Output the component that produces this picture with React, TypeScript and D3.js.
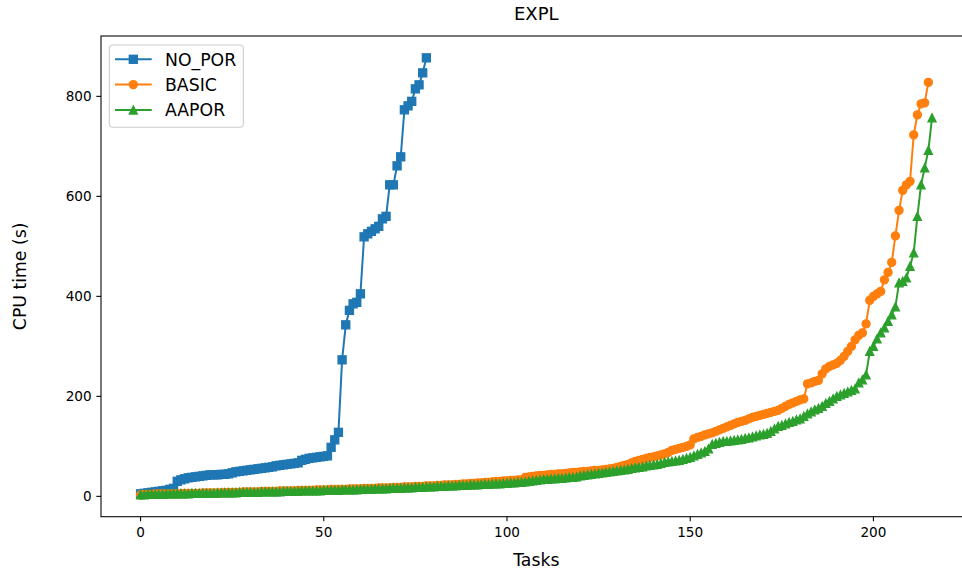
import React from 'react';
import * as d3 from 'd3';

const noPor = [
  5, 6, 7, 8, 9, 10, 11, 12, 14, 16,
  30, 33, 35, 37, 38, 39, 40, 41, 42, 43,
  43, 43, 44, 44, 45, 47, 49, 50, 51, 52,
  53, 54, 55, 56, 57, 58, 59, 61, 62, 63,
  64, 65, 66, 67, 72, 74, 76, 77, 78, 79,
  80, 81, 98, 113, 128, 273, 343, 372, 385, 388,
  405, 519, 525, 530, 535, 540, 555, 560, 623, 623,
  661, 679, 773, 781, 790, 815, 823, 847, 877,
];

const basic = [
  3, 4, 4, 4, 5, 5, 5, 5, 5, 5,
  5, 6, 6, 6, 6, 6, 6, 7, 7, 7,
  7, 7, 7, 8, 8, 8, 8, 8, 9, 9,
  9, 9, 9, 10, 10, 10, 10, 10, 11, 11,
  11, 11, 11, 12, 12, 12, 12, 12, 13, 13,
  13, 13, 14, 14, 14, 14, 14, 15, 15, 15,
  15, 16, 16, 16, 16, 17, 17, 17, 17, 18,
  18, 18, 19, 19, 19, 20, 20, 20, 21, 21,
  21, 22, 22, 23, 23, 23, 24, 24, 25, 25,
  26, 26, 27, 27, 28, 28, 29, 30, 30, 31,
  31, 32, 32, 33, 33, 38, 39, 40, 41, 42,
  42, 43, 44, 44, 45, 45, 46, 47, 48, 48,
  49, 50, 50, 51, 52, 52, 53, 54, 55, 56,
  58, 60, 62, 64, 67, 70, 72, 74, 76, 78,
  79, 81, 83, 85, 88, 92, 94, 96, 98, 100,
  103, 115, 118, 120, 123, 125, 127, 130, 133, 136,
  139, 142, 145, 148, 150, 152, 155, 158, 160, 162,
  164, 166, 168, 170, 172, 176, 180, 184, 187, 190,
  193, 195, 225, 227, 230, 232, 245, 255, 260, 263,
  266, 272, 280, 290, 300, 313, 322, 327, 345, 392,
  400, 405, 410, 433, 448, 468, 521, 572, 612, 623,
  630, 723, 763, 785, 787, 828,
];

const aapor = [
  3, 3, 4, 4, 4, 4, 4, 5, 5, 5,
  5, 5, 5, 5, 6, 6, 6, 6, 6, 6,
  6, 7, 7, 7, 7, 7, 7, 8, 8, 8,
  8, 8, 8, 9, 9, 9, 9, 9, 9, 10,
  10, 10, 10, 10, 11, 11, 11, 11, 11, 11,
  12, 12, 12, 12, 12, 13, 13, 13, 13, 13,
  14, 14, 14, 14, 15, 15, 15, 15, 16, 16,
  16, 16, 17, 17, 17, 18, 18, 18, 19, 19,
  19, 20, 20, 20, 21, 21, 21, 22, 22, 22,
  23, 23, 23, 24, 24, 24, 25, 25, 25, 26,
  26, 27, 27, 28, 28, 29, 30, 31, 32, 33,
  34, 34, 35, 35, 36, 36, 37, 38, 38, 39,
  41, 42, 43, 44, 45, 46, 47, 48, 49, 50,
  51, 52, 53, 54, 56, 57, 58, 59, 61, 62,
  63, 64, 66, 68, 69, 70, 71, 72, 74, 76,
  78, 81, 84, 87, 90, 95, 104, 106, 108, 110,
  110, 111, 112, 113, 114, 116, 117, 119, 121, 123,
  124, 126, 130, 135, 140, 142, 145, 148, 150, 153,
  155, 160, 165, 169, 173, 176, 180, 186, 190, 195,
  200, 203, 206, 209, 212, 215, 227, 233, 243, 290,
  300, 315, 327, 337, 350, 363, 379, 427, 430, 437,
  460, 487, 560, 623, 657, 692, 757,
];

const seriesNames = ['NO_POR', 'BASIC', 'AAPOR'];
const seriesColors = ['#1f77b4', '#ff7f0e', '#2ca02c'];
const seriesMarkers = ['square', 'circle', 'triangle'];
const xTicks = [0, 50, 100, 150, 200];
const yTicks = [0, 200, 400, 600, 800];
const titleText = 'EXPL';
const xLabel = 'Tasks';
const yLabel = 'CPU time (s)';

const FONT = 'DejaVu Sans, sans-serif';

function Marker({ kind, cx, cy, color }: { kind: string; cx: number; cy: number; color: string }) {
  const r = 4;
  const sw = 1.33;
  if (kind === 'square') {
    return <rect x={cx - r} y={cy - r} width={2 * r} height={2 * r} fill={color} stroke={color} strokeWidth={sw} strokeLinejoin="miter" />;
  }
  if (kind === 'circle') {
    return <circle cx={cx} cy={cy} r={r} fill={color} stroke={color} strokeWidth={sw} />;
  }
  return (
    <path
      d={`M${cx},${cy - r}L${cx - r},${cy + r}L${cx + r},${cy + r}Z`}
      fill={color}
      stroke={color}
      strokeWidth={sw}
      strokeLinejoin="miter"
    />
  );
}

export default function App() {
  const W = 962;
  const H = 572;
  const left = 101;
  const right = 971.6;
  const top = 36;
  const bottom = 516.7;

  const all = [noPor, basic, aapor];
  const xmax = d3.max(all, (s) => s.length - 1) as number;
  const xmin = 0;
  const xpad = (xmax - xmin) * 0.05;
  const ymin = d3.min(all, (s) => d3.min(s) as number) as number;
  const ymax = d3.max(all, (s) => d3.max(s) as number) as number;
  const ypad = (ymax - ymin) * 0.05;

  const x = d3.scaleLinear().domain([xmin - xpad, xmax + xpad]).range([left, right]);
  const y = d3.scaleLinear().domain([ymin - ypad, ymax + ypad]).range([bottom, top]);

  const line = d3
    .line<number>()
    .x((_, i) => x(i))
    .y((d) => y(d));

  const tickLen = 4.67;
  const cx = (left + right) / 2;
  const cy = (top + bottom) / 2;

  // legend layout
  const lgX = 109.3;
  const lgY = 45;
  const lgW = 134;
  const lgH = 82.3;
  const rowY = [59.3, 84.6, 110];
  const labelFs = 17.3;

  return (
    <svg
      width={W}
      height={H}
      viewBox={`0 0 ${W} ${H}`}
      style={{ position: 'absolute', left: 0, top: 0, background: '#fff' }}
      fontFamily={FONT}
    >
      <rect x={0} y={0} width={W} height={H} fill="#fff" />
      <defs>
        <clipPath id="plotclip">
          <rect x={left} y={top} width={right - left} height={bottom - top} />
        </clipPath>
      </defs>

      <g clipPath="url(#plotclip)">
        {all.map((s, si) => (
          <g key={seriesNames[si]}>
            <path d={line(s) || ''} fill="none" stroke={seriesColors[si]} strokeWidth={2} strokeLinejoin="round" strokeLinecap="square" />
            {s.map((v, i) => (
              <Marker key={i} kind={seriesMarkers[si]} cx={x(i)} cy={y(v)} color={seriesColors[si]} />
            ))}
          </g>
        ))}
      </g>

      {/* spines */}
      <rect x={left} y={top} width={right - left} height={bottom - top} fill="none" stroke="#000" strokeWidth={1.07} />

      {/* x ticks */}
      {xTicks.map((t) => (
        <g key={`x${t}`}>
          <line x1={x(t)} x2={x(t)} y1={bottom} y2={bottom + tickLen} stroke="#000" strokeWidth={1.07} />
          <text x={x(t)} y={bottom + 20} textAnchor="middle" fontSize={13.6} fill="#000">
            {t}
          </text>
        </g>
      ))}

      {/* y ticks */}
      {yTicks.map((t) => (
        <g key={`y${t}`}>
          <line x1={left - tickLen} x2={left} y1={y(t)} y2={y(t)} stroke="#000" strokeWidth={1.07} />
          <text x={left - tickLen - 4.67} y={y(t) + 4.9} textAnchor="end" fontSize={13.6} fill="#000">
            {t}
          </text>
        </g>
      ))}

      {/* labels */}
      <text x={cx} y={566} textAnchor="middle" fontSize={labelFs} fill="#000">
        {xLabel}
      </text>
      <text transform={`translate(26,${cy}) rotate(-90)`} textAnchor="middle" fontSize={labelFs} fill="#000">
        {yLabel}
      </text>
      <text x={cx} y={20} textAnchor="middle" fontSize={18} fill="#000">
        {titleText}
      </text>

      {/* legend */}
      <rect x={lgX} y={lgY} width={lgW} height={lgH} rx={3.5} ry={3.5} fill="#fff" fillOpacity={0.8} stroke="#cccccc" strokeWidth={1.07} />
      {seriesNames.map((n, i) => (
        <g key={n}>
          <line x1={115} x2={151.7} y1={rowY[i]} y2={rowY[i]} stroke={seriesColors[i]} strokeWidth={2} />
          <Marker kind={seriesMarkers[i]} cx={133.3} cy={rowY[i]} color={seriesColors[i]} />
          <text x={165} y={rowY[i] + 6.2} fontSize={labelFs} fill="#000">
            {n}
          </text>
        </g>
      ))}
    </svg>
  );
}
